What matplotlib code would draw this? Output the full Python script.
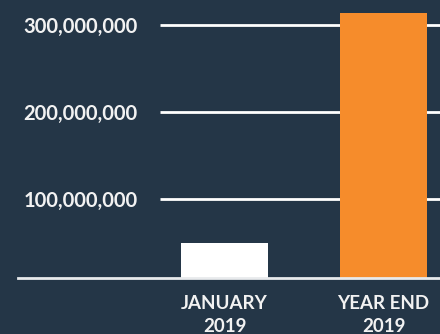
import matplotlib.pyplot as plt
from matplotlib.ticker import FuncFormatter

categories = ["JANUARY\n2019", "YEAR END\n2019"]
values = [49_800_000, 313_000_000]
bar_colors = ["#ffffff", "#f68c2b"]
grid_values = [100_000_000, 200_000_000, 300_000_000]

bg = "#243647"
plt.rcParams['font.family'] = ['Lato', 'DejaVu Sans']

fig = plt.figure(figsize=(4.4, 3.34), dpi=100, facecolor=bg)
ax = fig.add_axes([160 / 440, 1 - 278.3 / 334, 280 / 440, 278.3 / 334])
ax.set_facecolor(bg)

x = range(len(categories))
ax.bar(x, values, width=0.547, color=bar_colors, zorder=3)

ymin = 9_400_000
ax.set_xlim(-0.406, 1.355)
ax.set_ylim(ymin, 328_300_000)

# gridlines only over the plot part, baseline runs across to the labels
ax.hlines(grid_values, -0.406, 1.355, color="white", linewidth=2, zorder=2)
ax.plot([-1.299, 1.355], [ymin, ymin], color="#e8eaec", linewidth=2,
        clip_on=False, zorder=4)

for s in ax.spines.values():
    s.set_visible(False)

ax.set_yticks(grid_values)
ax.yaxis.set_major_formatter(FuncFormatter(lambda v, p: f"{int(v):,}"))
ax.set_xticks(list(x))
ax.set_xticklabels(categories, linespacing=1.4)
ax.tick_params(axis="y", length=0, pad=16, labelsize=14.5, labelcolor="#f2f2f2")
ax.tick_params(axis="x", length=0, pad=12, labelsize=13.5, labelcolor="#f2f2f2")
for lbl in ax.get_xticklabels() + ax.get_yticklabels():
    lbl.set_fontweight("bold")

fig.savefig("out.png", dpi=100, facecolor=bg)
